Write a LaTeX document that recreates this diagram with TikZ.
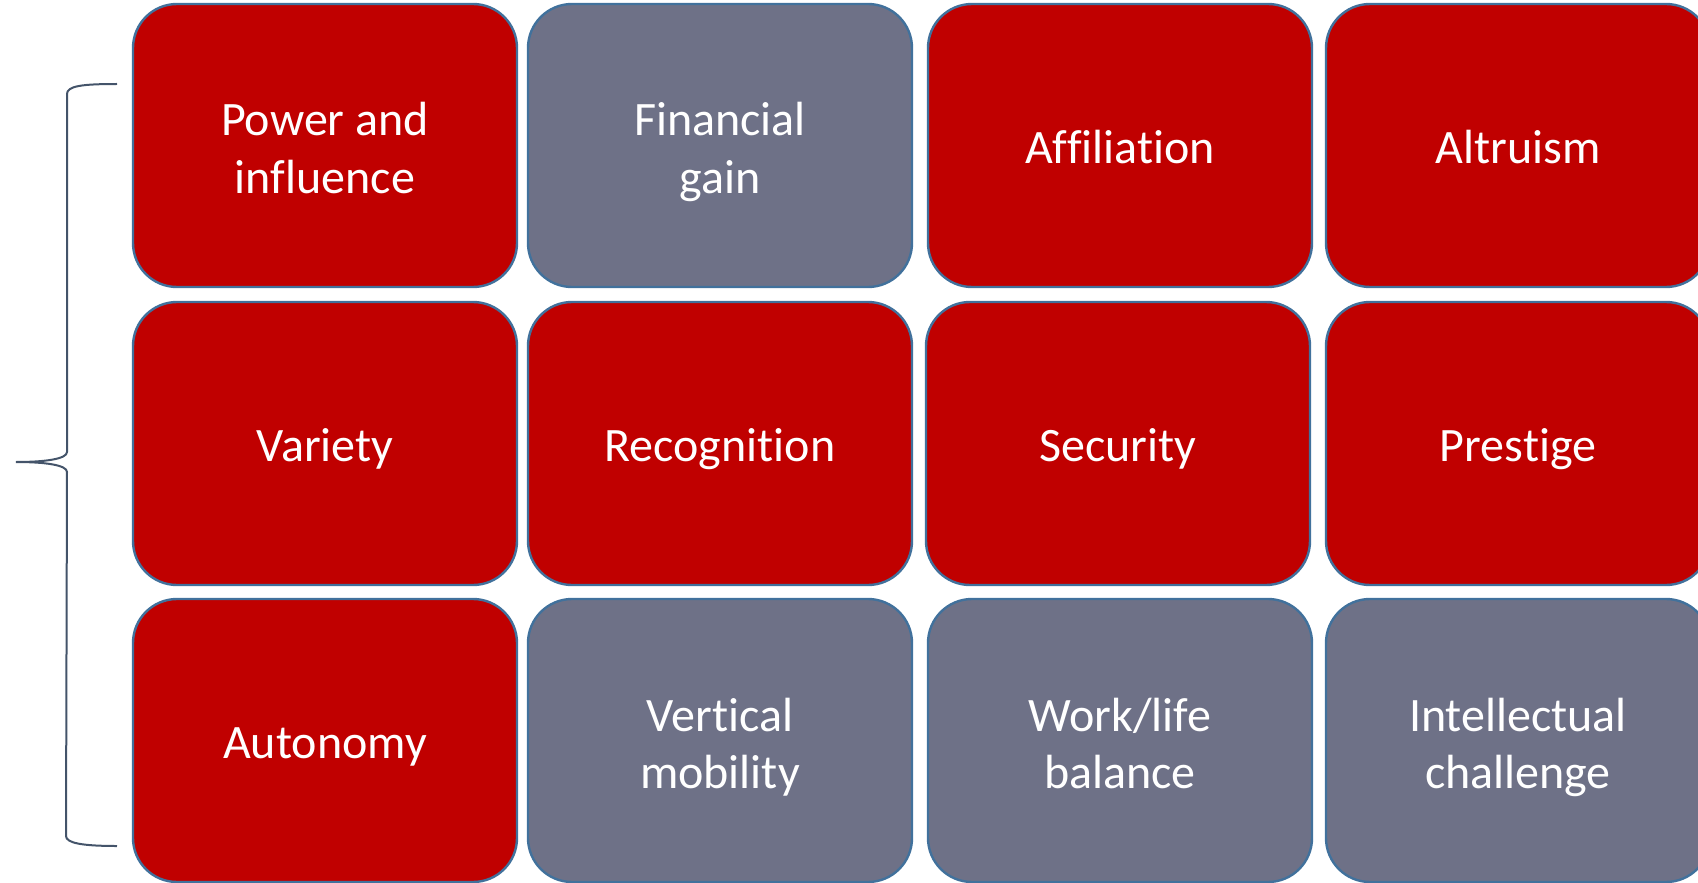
\documentclass[tikz,border=0pt]{standalone}
\usepackage{fontspec}
\setmainfont{Carlito}[Ligatures=NoCommon]
\usepackage{tikz}
\definecolor{boxred}{HTML}{C00000}
\definecolor{boxgray}{HTML}{6E7187}
\definecolor{boxline}{HTML}{41719C}
\definecolor{braceline}{HTML}{44546A}
\newcommand{\cardtop}{\rule{0pt}{25pt}}

\begin{document}
\begin{tikzpicture}[x=0.5pt,y=-0.5pt,
	card/.style={draw=boxline,line width=1.2pt,rounded corners=22pt,minimum width=192pt,minimum height=141.5pt,
		text=white,align=center,font=\fontsize{24}{28.5}\selectfont,
		execute at begin node={\rule{0pt}{24pt}},execute at end node={\rule[-6pt]{0pt}{6pt}}},
	redcard/.style={card,fill=boxred},
	graycard/.style={card,fill=boxgray}]
	\useasboundingbox (0,0) rectangle (1698,883);
	\node[redcard] (s1) at (325,145.5) {\cardtop Power and\\influence};
	\node[graycard] (s2) at (720,145.5) {\cardtop Financial\\gain};
	\node[redcard] (s3) at (1120,145.5) {Affiliation};
	\node[redcard] (s4) at (1518,145.5) {Altruism};
	\node[redcard] (s5) at (325,443.5) {Variety};
	\node[redcard] (s6) at (720,443.5) {Recognition};
	\node[redcard] (s7) at (1118,443.5) {Security};
	\node[redcard] (s8) at (1518,443.5) {Prestige};
	\node[redcard] (s9) at (325,740.5) {Autonomy};
	\node[graycard] (s10) at (720,740.5) {\cardtop Vertical\\mobility};
	\node[graycard] (s11) at (1120,740.5) {\cardtop Work/life\\balance};
	\node[graycard] (s12) at (1518,740.5) {\cardtop Intellectual\\challenge};
	% brace on the left
	\draw[braceline,line width=1pt]
	(117,84) .. controls (82,84) and (67,86) .. (67,94)
	-- (67,452) .. controls (67,459) and (45,462) .. (16,462)
	.. controls (45,462) and (67,465) .. (67,472)
	-- (66,836) .. controls (66,843) and (82,846) .. (117,846);
\end{tikzpicture}
\end{document}
